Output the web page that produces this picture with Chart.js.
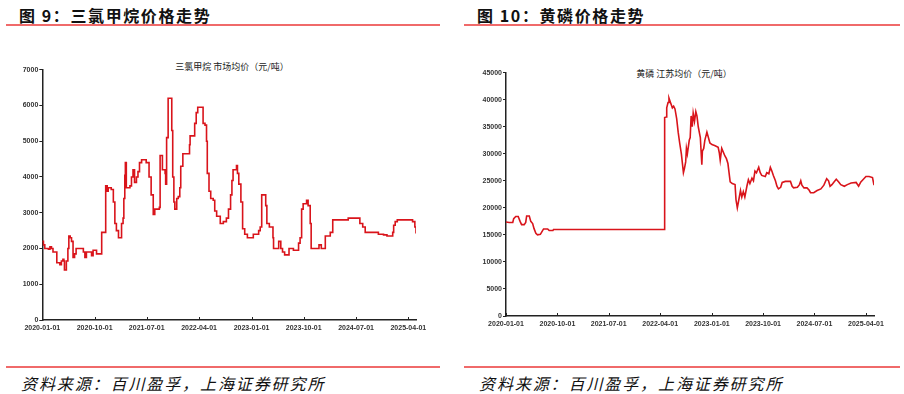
<!DOCTYPE html>
<html>
<head>
<meta charset="utf-8">
<script src="https://cdn.jsdelivr.net/npm/chart.js@4.4.0/dist/chart.umd.min.js"></script>
<style>
  body { margin:0; width:904px; height:394px; background:#fff; position:relative; overflow:hidden; font-family:"Noto Sans CJK SC", sans-serif; }
  .title { position:absolute; top:7px; line-height:16px; font-size:16px; font-weight:700; letter-spacing:1.6px; color:#111; white-space:nowrap; }
  .rule { position:absolute; height:2px; background:#f06a6a; }
  .src { position:absolute; top:375px; line-height:16px; font-size:16px; font-style:italic; letter-spacing:1.9px; color:#111; white-space:nowrap; }
  .sub { position:absolute; line-height:9px; font-size:9px; color:#222; transform:translateX(-50%); white-space:nowrap; }
  canvas { position:absolute; }
</style>
</head>
<body>
<div class="title" style="left:19px">图 9：三氯甲烷价格走势</div>
<div class="rule" style="left:6px; width:434px; top:24px"></div>
<div class="title" style="left:477px">图 10：黄磷价格走势</div>
<div class="rule" style="left:464px; width:436px; top:24px"></div>

<div class="sub" style="left:232px; top:62px">三氯甲烷 市场均价（元/吨）</div>
<div class="sub" style="left:684px; top:69px">黄磷 江苏均价（元/吨）</div>

<canvas id="chartLeft" width="440" height="300" style="left:0; top:40px"></canvas>
<canvas id="chartRight" width="440" height="296" style="left:460px; top:40px"></canvas>

<div class="rule" style="left:6px; width:434px; top:366px"></div>
<div class="src" style="left:21px">资料来源：百川盈孚，上海证券研究所</div>
<div class="rule" style="left:464px; width:436px; top:366px"></div>
<div class="src" style="left:479px">资料来源：百川盈孚，上海证券研究所</div>

<script>
// x 轴刻度
const tickDates = ['2020-01-01', '2020-10-01', '2021-07-01', '2022-04-01', '2023-01-01', '2023-10-01', '2024-07-01', '2025-04-01'];

// 三氯甲烷 市场均价
const clDates = ['2020-01-01','2020-01-07','2020-01-14','2020-02-02','2020-02-10','2020-02-18','2020-02-26','2020-03-14','2020-03-17','2020-04-02',
  '2020-04-10','2020-04-18','2020-04-23','2020-04-26','2020-05-06','2020-05-14','2020-05-19','2020-05-26','2020-06-02','2020-06-10',
  '2020-06-18','2020-06-26','2020-07-23','2020-08-03','2020-08-11','2020-08-19','2020-09-07','2020-09-15','2020-09-23','2020-10-11',
  '2020-10-27','2020-11-07','2020-11-23','2020-11-28','2020-12-06','2020-12-11','2020-12-27','2021-01-07','2021-01-15','2021-01-23',
  '2021-02-03','2021-02-15','2021-02-19','2021-02-27','2021-03-03','2021-03-08','2021-03-11','2021-03-16','2021-04-04','2021-04-12',
  '2021-04-20','2021-04-28','2021-05-08','2021-05-16','2021-05-24','2021-06-04','2021-06-28','2021-07-13','2021-07-24','2021-08-04',
  '2021-08-12','2021-09-05','2021-09-09','2021-09-17','2021-09-21','2021-10-05','2021-10-08','2021-10-13','2021-10-21','2021-11-04',
  '2021-11-09','2021-11-14','2021-11-20','2021-11-25','2021-12-05','2021-12-13','2021-12-21','2021-12-26','2022-01-06','2022-02-05',
  '2022-02-10','2022-02-13','2022-03-01','2022-03-09','2022-03-17','2022-03-25','2022-04-14','2022-04-22','2022-05-02','2022-05-10',
  '2022-05-14','2022-05-23','2022-06-01','2022-06-14','2022-06-22','2022-07-02','2022-07-18','2022-07-21','2022-08-06','2022-08-22',
  '2022-09-02','2022-09-13','2022-09-20','2022-09-26','2022-10-08','2022-10-14','2022-10-19','2022-10-26','2022-11-06','2022-11-12',
  '2022-11-15','2022-11-26','2022-12-10','2023-01-06','2023-01-10','2023-02-02','2023-02-07','2023-02-15','2023-02-23','2023-03-06',
  '2023-03-16','2023-03-22','2023-04-04','2023-04-17','2023-04-23','2023-04-26','2023-05-14','2023-05-23','2023-06-03','2023-06-12',
  '2023-06-23','2023-07-12','2023-07-16','2023-08-04','2023-08-08','2023-08-24','2023-09-04','2023-09-12','2023-09-20','2023-09-28',
  '2023-10-10','2023-10-16','2023-10-24','2023-11-04','2023-11-09','2023-12-12','2023-12-20','2024-01-01','2024-01-16','2024-01-22',
  '2024-02-17','2024-03-01','2024-05-21','2024-07-13','2024-07-21','2024-08-05','2024-08-18','2024-10-18','2024-10-26','2024-11-22',
  '2024-12-10','2025-01-01','2025-01-09','2025-01-14','2025-01-22','2025-02-02','2025-04-10','2025-04-23','2025-05-05','2025-05-11'];
const clPrices = [2200,2100,2000,1980,2050,2000,1900,1900,1600,1550,
  1650,1700,1650,1400,1650,2000,2350,2300,2200,1750,
  1850,2000,2000,1900,1750,1900,1900,1800,1950,1850,
  1850,2450,2450,3750,3600,3700,3650,3300,2700,2500,
  2300,2300,2700,2850,3400,4050,4400,3700,3750,4000,
  4200,3850,4000,4150,4400,4480,4400,4000,3500,2950,
  3100,3150,4600,4600,4200,4100,3800,5100,6200,6200,
  5300,4000,3300,3100,3400,3450,3700,4300,4650,4650,
  4900,5150,5150,5500,5800,5950,5950,5500,5450,5000,
  4100,3600,3400,3350,3050,2900,2900,2700,2750,2850,
  3100,3500,3900,4200,4200,4320,4100,3800,3300,3300,
  2550,2400,2300,2300,2400,2400,2500,2600,3500,3500,
  3200,2700,2600,2600,2300,2000,2000,2200,2000,1900,
  1820,1820,2000,2000,1950,1950,2150,2300,3100,3250,
  3250,3350,3200,2700,2000,2000,2100,2000,2000,2350,
  2450,2800,2850,2850,2700,2600,2450,2450,2400,2380,
  2350,2350,2450,2650,2750,2800,2800,2750,2600,2420];

// 黄磷 江苏均价
const ypDates = ['2020-01-01','2020-01-18','2020-02-06','2020-02-11','2020-02-22','2020-03-06','2020-03-16','2020-03-24','2020-04-07','2020-04-15',
  '2020-04-20','2020-05-04','2020-05-12','2020-05-22','2020-05-29','2020-06-08','2020-06-17','2020-07-02','2020-07-09','2020-07-19',
  '2020-08-10','2020-08-18','2020-09-07','2020-09-10','2022-04-22','2022-04-25','2022-05-03','2022-05-06','2022-05-13','2022-05-18',
  '2022-05-27','2022-06-05','2022-06-12','2022-06-19','2022-06-28','2022-07-06','2022-07-14','2022-07-23','2022-08-03','2022-08-08',
  '2022-08-15','2022-08-19','2022-08-24','2022-09-03','2022-09-08','2022-09-13','2022-09-19','2022-09-24','2022-10-01','2022-10-08',
  '2022-10-14','2022-10-21','2022-11-01','2022-11-09','2022-11-12','2022-11-19','2022-11-25','2022-12-06','2022-12-14','2022-12-22',
  '2023-01-02','2023-01-19','2023-02-04','2023-02-10','2023-02-15','2023-02-23','2023-03-12','2023-03-20','2023-03-28','2023-04-09',
  '2023-04-20','2023-05-05','2023-05-10','2023-05-17','2023-05-25','2023-06-03','2023-06-10','2023-06-18','2023-06-26','2023-07-07',
  '2023-07-15','2023-07-23','2023-08-03','2023-08-11','2023-08-19','2023-08-27','2023-09-08','2023-09-16','2023-09-24','2023-10-13',
  '2023-10-21','2023-11-01','2023-11-09','2023-11-17','2023-11-25','2023-12-06','2023-12-14','2023-12-22','2024-01-03','2024-01-11',
  '2024-01-28','2024-02-24','2024-03-04','2024-03-12','2024-04-01','2024-04-12','2024-04-19','2024-04-25','2024-05-06','2024-05-22',
  '2024-06-02','2024-06-10','2024-06-27','2024-07-15','2024-08-04','2024-08-20','2024-09-04','2024-09-14','2024-09-22','2024-10-02',
  '2024-10-13','2024-10-25','2024-11-07','2024-11-18','2024-12-07','2024-12-23','2025-01-12','2025-02-08','2025-02-21','2025-03-05',
  '2025-03-16','2025-04-01','2025-04-18','2025-05-06','2025-05-14'];
const ypPrices = [17400,17300,17300,18000,18400,18400,17500,16900,16900,17300,
  18500,18500,17500,17100,16200,15300,15000,15100,15500,16100,
  16100,15800,15800,16000,16000,36700,36800,38500,39500,40300,
  39400,38500,38800,38300,36500,34000,32000,30000,26500,27200,
  28500,31000,30000,32500,33000,37000,35000,37500,36000,37800,
  37000,35000,33000,28000,30500,31000,32500,34000,33000,32000,
  31700,31500,31200,30200,28800,31000,29600,29100,28200,24800,
  24500,24300,21500,20000,21500,23200,22000,23000,22000,24000,
  25200,24500,25500,25000,26800,26500,27500,26500,26000,25800,
  26500,26300,27500,26800,26000,25000,24000,23500,23800,24700,
  24900,24900,24000,23700,23800,24300,25000,24200,23700,23700,
  23300,22800,22800,23200,23500,24200,25400,25000,24000,24300,
  24800,25300,24800,24300,24000,24300,24600,24700,24000,24800,
  25200,25800,25800,25600,24200];

// 日期 -> 距 2020-01-01 的天数
function toDay(s) {
  const [y, m, d] = s.split('-').map(Number);
  return (Date.UTC(y, m - 1, d) - Date.UTC(2020, 0, 1)) / 86400000;
}

const tickFont = { family: 'Liberation Sans', size: 7, weight: 'bold' };

// x 轴刻度线朝内
const innerTicks = {
  id: 'innerTicks',
  afterDraw(chart) {
    const { ctx, chartArea, scales: { x } } = chart;
    ctx.save();
    ctx.strokeStyle = '#222';
    ctx.lineWidth = 1;
    x.ticks.forEach(t => {
      const px = Math.round(x.getPixelForValue(t.value)) + 0.5;
      ctx.beginPath();
      ctx.moveTo(px, chartArea.bottom);
      ctx.lineTo(px, chartArea.bottom - 3);
      ctx.stroke();
    });
    ctx.restore();
  }
};

function crearGrafico(id, dates, prices, yMax, yStep, yWidth, padTop, padRight, escalonado) {
  return new Chart(document.getElementById(id), {
    type: 'line',
    data: {
      datasets: [{
        data: dates.map((d, i) => ({ x: toDay(d), y: prices[i] })),
        borderColor: '#d9141b',
        borderWidth: 1.6,
        pointRadius: 0,
        tension: 0,
        stepped: escalonado ? 'before' : false,
        fill: false
      }]
    },
    options: {
      responsive: false,
      animation: false,
      layout: { padding: { top: padTop, right: padRight, left: 0, bottom: 0 } },
      plugins: { legend: { display: false }, tooltip: { enabled: false } },
      scales: {
        x: {
          type: 'linear',
          min: 0,
          max: toDay(dates[dates.length - 1]),
          afterBuildTicks: s => { s.ticks = tickDates.map(d => ({ value: toDay(d) })); },
          afterFit: s => { s.height = 20; },
          ticks: {
            callback: (v, i) => tickDates[i],
            font: tickFont, color: '#333', padding: 4,
            maxRotation: 0, autoSkip: false
          },
          grid: { display: false, drawTicks: false },
          border: { color: '#222', width: 1.5 }
        },
        y: {
          min: 0,
          max: yMax,
          afterFit: s => { s.width = yWidth; },
          ticks: { stepSize: yStep, font: tickFont, color: '#333', padding: 1, callback: v => String(v) },
          grid: { drawOnChartArea: false, tickLength: 3, color: '#222', lineWidth: 1 },
          border: { color: '#222', width: 1.5 }
        }
      }
    },
    plugins: [innerTicks]
  });
}

crearGrafico('chartLeft', clDates, clPrices, 7000, 1000, 42.3, 29.7, 24, true);
crearGrafico('chartRight', ypDates, ypPrices, 45000, 5000, 46, 32.7, 26, false);
</script>
</body>
</html>
